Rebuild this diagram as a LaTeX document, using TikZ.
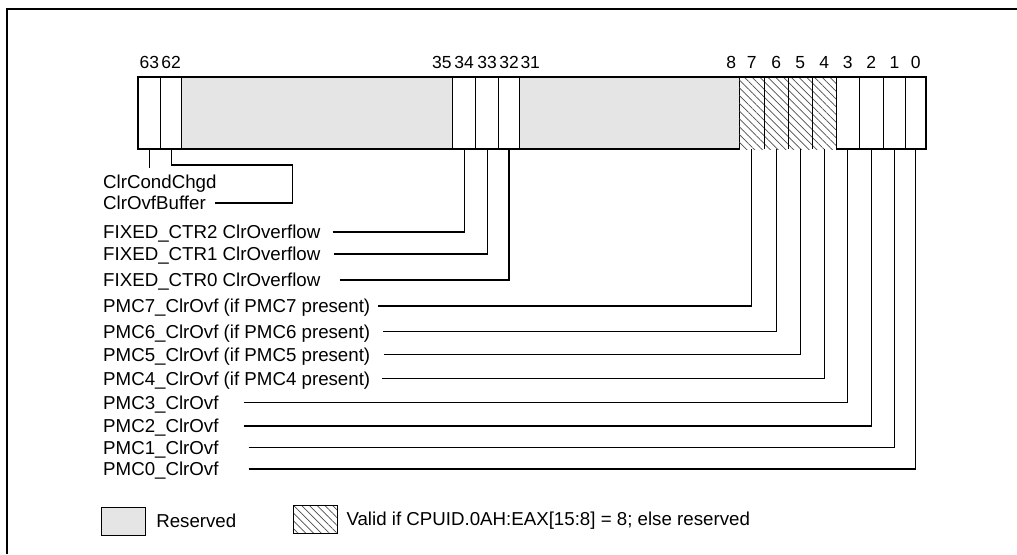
\documentclass[tikz,border=0pt]{standalone}
\usepackage{fontspec}
\setmainfont{Liberation Sans}
\usetikzlibrary{positioning,patterns.meta}

\begin{document}
\begin{tikzpicture}[
    x=1pt, y=-1pt,
    font=\fontsize{18.7}{22}\selectfont,
    field/.style={
        rectangle, draw, line width=0.8pt,
        inner sep=0pt, outer sep=0pt,
        minimum height=72pt
    },
    bitf/.style={},
    resv/.style={fill=gray!20},
    hatch/.style={
        pattern={Lines[angle=-45,distance=5.5pt,line width=0.7pt]},
        pattern color=black!70
    },
    hatchf/.style={hatch, draw=none},
    bitno/.style={inner sep=0pt, text depth=0pt, font=\fontsize{17.5}{20}\selectfont},
    lbl/.style={inner sep=0pt, text height=13.4pt, text depth=0pt, anchor=west},
    wire/.style={line width=1.2pt},
    regline/.style={line width=2.4pt}
]
\useasboundingbox (0,0) rectangle (1017,554);
\draw[line width=2pt] (7,554) -- (7,9) -- (1017,9);

% register fields
\foreach \n/\l/\r/\s in {b63/138/160.7/bitf, b62/160.7/181.7/bitf,
    r1/181.7/452.7/resv, b34/452.7/475.7/bitf, b33/475.7/498.7/bitf,
    b32/498.7/519.3/bitf, r2/519.3/739.3/resv,
    b7/739.3/764.3/hatchf, b6/764.3/788.3/hatchf, b5/788.3/812.3/hatchf,
    b4/812.3/836/hatchf, b3/836/859.3/bitf, b2/859.3/883.3/bitf,
    b1/883.3/905.7/bitf, b0/905.7/926/bitf}
{
    \pgfmathsetmacro\w{\r-\l}
    \node[field, \s, minimum width=\w pt] (\n) at ({(\l+\r)/2},113) {};
}
\foreach \n in {b7,b6,b5}
    \draw[line width=0.8pt] (\n.north east) -- (\n.south east);
\draw[regline] (b7.south west) -| (b63.north west) -| (b0.south east) -- (b4.south east);

% bit numbers
\node[bitno, above=8.7pt of b63] (n63) {63};
\node[bitno, above=8.7pt of b62] (n62) {62};
\node[bitno, above left=8.7pt and 1pt of r1.north east] (n35) {35};
\node[bitno, above=8.7pt of b34] (n34) {34};
\node[bitno, above=8.7pt of b33] (n33) {33};
\node[bitno, above=8.7pt of b32] (n32) {32};
\node[bitno, above right=8.7pt and 1pt of r2.north west] (n31) {31};
\node[bitno, above left=8.7pt and 3pt of r2.north east] (n8) {8};
\node[bitno, above=8.7pt of b7] (n7) {7};
\node[bitno, above=8.7pt of b6] (n6) {6};
\node[bitno, above=8.7pt of b5] (n5) {5};
\node[bitno, above=8.7pt of b4] (n4) {4};
\node[bitno, above=8.7pt of b3] (n3) {3};
\node[bitno, above=8.7pt of b2] (n2) {2};
\node[bitno, above=8.7pt of b1] (n1) {1};
\node[bitno, above=8.7pt of b0] (n0) {0};

% field names
\node[lbl] (lcond) at (103,181.7) {ClrCondChgd};
\node[lbl] (lbuf) at (103,203) {ClrOvfBuffer};
\draw[wire] (b63.south) -- ++(0,19);
\coordinate (bufbend) at (292.7,165);
\draw[wire] ([xshift=9pt]lbuf.east) -| (bufbend) -| (b62.south);

\foreach \n/\txt/\y/\g in {
    34/FIXED\_CTR2 ClrOverflow/232/12,
    33/FIXED\_CTR1 ClrOverflow/254/13,
    32/FIXED\_CTR0 ClrOverflow/280/19,
    7/PMC7\_ClrOvf (if PMC7 present)/306/8,
    6/PMC6\_ClrOvf (if PMC6 present)/331.5/13,
    5/PMC5\_ClrOvf (if PMC5 present)/354.3/14,
    4/PMC4\_ClrOvf (if PMC4 present)/378.3/12,
    3/PMC3\_ClrOvf/402.7/25,
    2/PMC2\_ClrOvf/426/25,
    1/PMC1\_ClrOvf/447.5/30,
    0/PMC0\_ClrOvf/469/30}
{
    \node[lbl] (l\n) at (103,\y) {\txt};
    \draw[wire] ([xshift=\g pt]l\n.east) -| (b\n.south);
}

% legend
\node[field, resv, minimum width=43.3pt, minimum height=27.7pt] (keyres) at (123.4,521.2) {};
\node[lbl, right=11pt of keyres] (keyrestxt) {Reserved};
\node[field, hatch, minimum width=44pt, minimum height=28.3pt] (keyhat) at (315.3,519.2) {};
\node[lbl, right=9pt of keyhat] (keyhattxt) {Valid if CPUID.0AH:EAX[15:8] = 8; else reserved};
\end{tikzpicture}
\end{document}
